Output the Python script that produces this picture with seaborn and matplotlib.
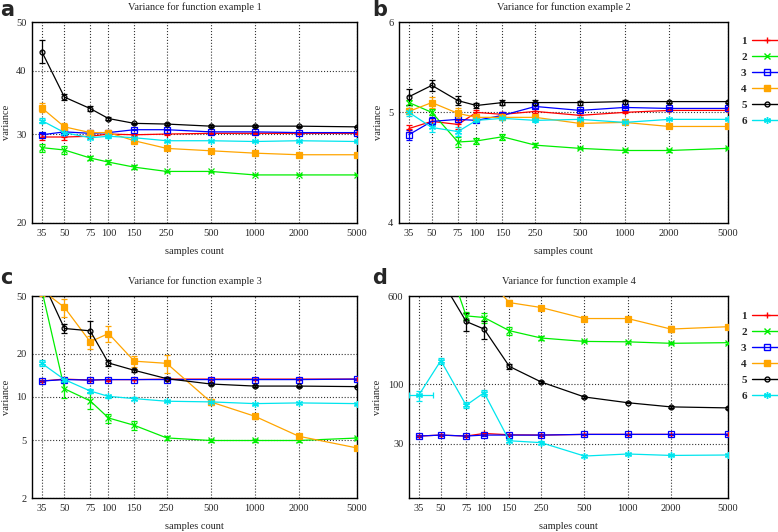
import matplotlib
matplotlib.use('Agg')
import matplotlib.pyplot as plt
import matplotlib.ticker as mticker
from matplotlib.lines import Line2D
import seaborn as sns

samples = [35, 50, 75, 100, 150, 250, 500, 1000, 2000, 5000]
methods = ['1', '2', '3', '4', '5', '6']

# example 1
var_a = {
    '1': [29.6, 29.6, 29.7, 30.0, 29.9, 30.0, 30.1, 30.1, 30.1, 30.1],
    '2': [28.2, 27.9, 26.9, 26.4, 25.8, 25.3, 25.3, 24.9, 24.9, 24.9],
    '3': [29.9, 30.3, 30.1, 30.2, 30.6, 30.6, 30.3, 30.3, 30.2, 30.2],
    '4': [33.8, 31.0, 30.2, 30.2, 29.1, 28.1, 27.8, 27.5, 27.3, 27.3],
    '5': [43.7, 35.5, 33.7, 32.2, 31.5, 31.4, 31.1, 31.1, 31.1, 31.0],
    '6': [31.9, 30.2, 29.5, 29.7, 29.5, 29.1, 29.1, 29.0, 29.1, 29.0],
}
err_a = {
    '1': [0.4, 0.4, 0.2, 0.2, 0.1, 0.1, 0.1, 0.05, 0.05, 0.05],
    '2': [0.5, 0.5, 0.3, 0.2, 0.2, 0.1, 0.1, 0.05, 0.05, 0.05],
    '3': [0.3, 0.2, 0.2, 0.2, 0.1, 0.1, 0.1, 0.05, 0.05, 0.05],
    '4': [0.7, 0.5, 0.4, 0.4, 0.2, 0.1, 0.1, 0.1, 0.1, 0.05],
    '5': [2.3, 0.5, 0.4, 0.2, 0.1, 0.1, 0.1, 0.1, 0.05, 0.05],
    '6': [0.4, 0.3, 0.2, 0.2, 0.1, 0.1, 0.1, 0.05, 0.05, 0.05],
}

# example 2
var_b = {
    '1': [4.84, 4.91, 4.88, 5.00, 4.98, 5.01, 4.97, 5.00, 5.02, 5.02],
    '2': [5.10, 5.00, 4.71, 4.72, 4.76, 4.68, 4.65, 4.63, 4.63, 4.65],
    '3': [4.78, 4.91, 4.93, 4.92, 4.97, 5.06, 5.02, 5.05, 5.04, 5.04],
    '4': [5.01, 5.10, 4.99, 4.95, 4.95, 4.95, 4.89, 4.90, 4.86, 4.86],
    '5': [5.16, 5.28, 5.12, 5.07, 5.10, 5.10, 5.10, 5.11, 5.11, 5.11],
    '6': [5.00, 4.85, 4.81, 4.92, 4.94, 4.92, 4.93, 4.90, 4.93, 4.93],
}
err_b = {
    '1': [0.03, 0.03, 0.04, 0.02, 0.02, 0.02, 0.02, 0.01, 0.01, 0.01],
    '2': [0.03, 0.03, 0.05, 0.03, 0.03, 0.02, 0.01, 0.01, 0.01, 0.01],
    '3': [0.05, 0.04, 0.03, 0.02, 0.02, 0.02, 0.01, 0.01, 0.01, 0.01],
    '4': [0.03, 0.06, 0.05, 0.03, 0.02, 0.02, 0.02, 0.01, 0.01, 0.01],
    '5': [0.08, 0.06, 0.05, 0.03, 0.03, 0.03, 0.02, 0.02, 0.01, 0.01],
    '6': [0.04, 0.04, 0.04, 0.02, 0.02, 0.02, 0.01, 0.01, 0.01, 0.01],
}

# example 3
var_c = {
    '1': [12.9, 13.3, 13.1, 13.2, 13.2, 13.3, 13.3, 13.3, 13.3, 13.3],
    '2': [55, 11.4, 9.4, 7.16, 6.37, 5.21, 5.0, 5.0, 5.0, 5.2],
    '3': [12.9, 13.2, 13.1, 13.2, 13.2, 13.2, 13.2, 13.2, 13.2, 13.3],
    '4': [55, 41.7, 24.1, 27.5, 17.7, 17.1, 9.25, 7.36, 5.35, 4.44],
    '5': [65, 29.8, 28.7, 17.2, 15.3, 13.4, 12.3, 11.9, 11.9, 11.8],
    '6': [17.1, 13.2, 11.0, 10.1, 9.75, 9.35, 9.25, 9.0, 9.1, 9.0],
}
err_c = {
    '1': [0.2, 0.2, 0.2, 0.2, 0.1, 0.1, 0.1, 0.1, 0.1, 0.1],
    '2': [3, 1.5, 1.2, 0.5, 0.5, 0.2, 0.1, 0.1, 0.1, 0.1],
    '3': [0.2, 0.2, 0.2, 0.1, 0.1, 0.1, 0.1, 0.1, 0.1, 0.1],
    '4': [5, 6, 2.5, 3.5, 1.5, 2.5, 0.5, 0.3, 0.2, 0.1],
    '5': [5, 2, 5, 0.8, 0.4, 0.3, 0.2, 0.2, 0.1, 0.1],
    '6': [0.8, 0.4, 0.3, 0.2, 0.2, 0.1, 0.1, 0.1, 0.1, 0.1],
}

# example 4
var_d = {
    '1': [35.1, 35.8, 35.1, 37.0, 36.0, 35.8, 36.3, 36.3, 36.3, 36.3],
    '2': [2500, 1780, 401, 388, 297, 256, 239, 237, 230, 233],
    '3': [35.1, 35.8, 35.1, 35.8, 35.8, 35.8, 36.3, 36.3, 36.3, 36.3],
    '4': [1500, 1200, 1050, 916, 525, 475, 380, 380, 307, 322],
    '5': [1400, 846, 358, 307, 144, 105, 77.5, 69, 63.4, 62.1],
    '6': [80, 162, 65.5, 84.5, 31.9, 30.7, 23.4, 24.4, 23.7, 23.9],
}
err_d = {
    '1': [1, 1, 1, 1, 0.5, 0.5, 0.5, 0.5, 0.5, 0.5],
    '2': [100, 80, 30, 40, 25, 10, 5, 5, 5, 5],
    '3': [1, 1, 1, 1, 0.5, 0.5, 0.5, 0.5, 0.5, 0.5],
    '4': [100, 100, 80, 60, 25, 15, 15, 15, 20, 10],
    '5': [100, 80, 65, 58, 8, 3, 2, 1, 1, 1],
    '6': [8, 10, 4, 5, 1, 1, 0.5, 0.5, 0.5, 0.5],
}

colors = {'1': '#ff0000', '2': '#00ee00', '3': '#0000ff',
          '4': '#ffa500', '5': '#000000', '6': '#00e5ee'}
markers = {'1': '+', '2': 'x', '3': 's', '4': 's', '5': 'o', '6': (6, 2, 0)}
msizes = {'1': 5, '2': 4, '3': 4, '4': 4, '5': 3.5, '6': 5}
mfaces = {'1': None, '2': None, '3': 'none', '4': None, '5': 'none', '6': None}

sns.set_style('white')
plt.rcParams['font.family'] = ['Liberation Serif', 'DejaVu Serif']

fig = plt.figure(figsize=(7.78, 5.32), dpi=100)
W, H = 778, 532


def add_ax(left, right, top, bottom):
    return fig.add_axes([left / W, 1 - bottom / H, (right - left) / W, (bottom - top) / H])


panels = [
    (add_ax(32, 357, 22, 223), var_a, err_a, 'Variance for function example 1', (20, 50), [20, 30, 40, 50]),
    (add_ax(399, 728, 22, 223), var_b, err_b, 'Variance for function example 2', (4, 6), [4, 5, 6]),
    (add_ax(32, 357, 296, 498), var_c, err_c, 'Variance for function example 3', (2, 50), [2, 5, 10, 20, 50]),
    (add_ax(409, 728, 296, 498), var_d, err_d, 'Variance for function example 4', (10, 600), [30, 100, 600]),
]

for i, (ax, vals, errs, title, ylim, yticks) in enumerate(panels):
    ax.set_xscale('log')
    ax.set_yscale('log')
    for m in methods:
        c = colors[m]
        xerr = None
        if i == 3 and m == '6':
            xerr = [[5] + [0] * 9, [9] + [0] * 9]
        ax.errorbar(samples, vals[m], yerr=errs[m], xerr=xerr, fmt='none',
                    ecolor=c, elinewidth=0.9, capsize=2, capthick=0.9, zorder=3)
        kw = dict(mec=c, mew=0.9)
        if mfaces[m] is not None:
            kw['mfc'] = mfaces[m]
        sns.lineplot(x=samples, y=vals[m], color=c, marker=markers[m],
                     markersize=msizes[m], lw=0.9, ax=ax, zorder=4, **kw)
    ax.set_xlim(30, 5000)
    ax.set_ylim(*ylim)
    ax.xaxis.set_major_locator(mticker.FixedLocator(samples))
    ax.xaxis.set_major_formatter(mticker.FixedFormatter([str(s) for s in samples]))
    ax.xaxis.set_minor_locator(mticker.NullLocator())
    ax.yaxis.set_major_locator(mticker.FixedLocator(yticks))
    ax.yaxis.set_major_formatter(mticker.FixedFormatter([str(t) for t in yticks]))
    ax.yaxis.set_minor_locator(mticker.NullLocator())
    ax.grid(True, ls=':', color='#333333', lw=0.8)
    ax.tick_params(labelsize=7.5, direction='in', length=3, pad=4)
    for s in ax.spines.values():
        s.set_color('black')
        s.set_linewidth(1.0)
    ax.set_title(title, fontsize=7.5, pad=9)
    ax.set_xlabel('samples count', fontsize=7.5, labelpad=7)
    ax.set_ylabel('variance', fontsize=7.5, labelpad=4)

# panel letters
for lbl, x, y in [('a', 0, 0), ('b', 372, 0), ('c', 0, 268), ('d', 372, 268)]:
    fig.text(x / W, 1 - y / H, lbl, fontsize=15, fontweight='bold',
             family='DejaVu Sans', va='top', ha='left')

# legends
handles = []
for m in methods:
    kw = dict(mec=colors[m])
    if mfaces[m] is not None:
        kw['mfc'] = mfaces[m]
    handles.append(Line2D([0], [0], color=colors[m], lw=1.0, marker=markers[m],
                          markersize=msizes[m], **kw))
for ytop in (36, 311):
    fig.legend(handles, methods, loc='upper left', bbox_to_anchor=(741 / W, 1 - ytop / H),
               frameon=False, markerfirst=False, handlelength=2.6, handletextpad=0.5,
               labelspacing=0.57, borderaxespad=0, borderpad=0,
               prop={'size': 8, 'weight': 'bold'})

fig.savefig('out.png', dpi=100)
